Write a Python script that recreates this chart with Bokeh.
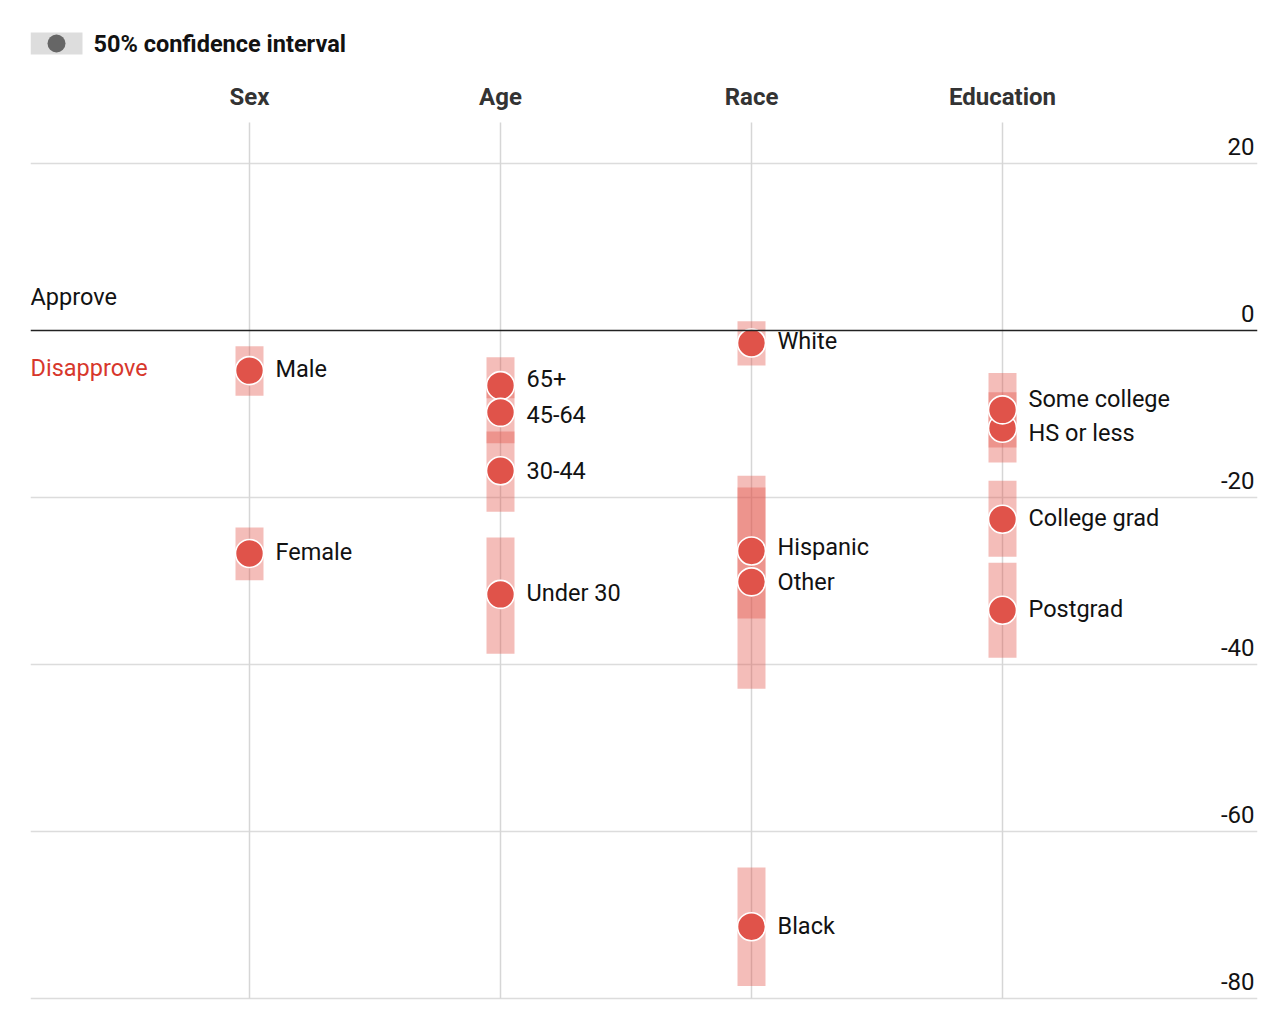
from bokeh.plotting import figure
from bokeh.models import ColumnDataSource, Span, FixedTicker
from bokeh.core.properties import value
from bokeh.embed import file_html
from bokeh.resources import INLINE

# ---------------- data ----------------
groups = ["Sex", "Age", "Race", "Education"]
labels = ["Male", "Female",
          "65+", "45-64", "30-44", "Under 30",
          "White", "Hispanic", "Other", "Black",
          "HS or less", "Some college", "College grad", "Postgrad"]
group_idx = [0, 0, 1, 1, 1, 1, 2, 2, 2, 2, 3, 3, 3, 3]
estimate = [-4.8, -26.7, -6.6, -9.8, -16.8, -31.6,
            -1.5, -26.4, -30.1, -71.4, -11.7, -9.5, -22.6, -33.5]
ci_low = [-7.8, -29.9, -8.1, -13.5, -21.7, -38.7,
          -4.2, -34.5, -42.9, -78.5, -15.8, -14.0, -27.1, -39.2]
ci_high = [-1.9, -23.6, -3.2, -6.9, -12.1, -24.8,
           1.1, -17.4, -18.8, -64.3, -7.4, -5.1, -18.0, -27.8]
# label nudges in screen px (positive = up) to avoid overlaps
label_nudge = [2, 1, 7, -2, 0, 1, 2, 4, 0, 1, -5, 11, 1, 1]

tick_values = [20, 0, -20, -40, -60, -80]
tick_labels = ["20", "0", "-20", "-40", "-60", "-80"]
grid_values = [20, -20, -40, -60, -80]

# ---------------- layout helpers ----------------
FONT = "Roboto"
PX_PER_COL = 251.0
PX_PER_UNIT = 8.35
# frame in page px: x 30..1257, y 14..1004 ; col0 at x=249, value 0 at y=330
X0, X1 = -(249 - 30) / PX_PER_COL, (1257 - 249) / PX_PER_COL
Y1, Y0 = (330 - 14) / PX_PER_UNIT, (330 - 1004) / PX_PER_UNIT


def px_x(px):
    return (px - 249) / PX_PER_COL


def px_y(py):
    return (330 - py) / PX_PER_UNIT


p = figure(width=1262, height=1010, x_range=(X0, X1), y_range=(Y0, Y1),
           output_backend="svg", toolbar_location=None,
           x_axis_location=None, y_axis_location=None,
           min_border_left=30, min_border_right=5,
           min_border_top=14, min_border_bottom=6)
p.outline_line_color = None
p.background_fill_color = "white"
p.xgrid.visible = False
p.ygrid.ticker = FixedTicker(ticks=grid_values)
p.ygrid.grid_line_color = "#dcdcdc"
p.ygrid.grid_line_width = 1.5

# vertical column lines
cols = list(range(len(groups)))
p.segment(x0=cols, x1=cols, y0=[px_y(122)] * 4, y1=[-80] * 4,
          line_color="#d6d6d6", line_width=1.5)

# zero line
p.add_layout(Span(location=0, dimension="width", line_color="#222222",
                  line_width=1.6))

src = ColumnDataSource(dict(
    x=group_idx, est=estimate,
    mid=[(a + b) / 2 for a, b in zip(ci_low, ci_high)],
    h=[b - a for a, b in zip(ci_low, ci_high)],
    label=labels,
    yoff=[-n for n in label_nudge],
))

# confidence bands
p.rect(x="x", y="mid", width=28, height="h", width_units="screen",
       source=src, fill_color="#e15146", fill_alpha=0.38, line_color=None)

# estimates
p.scatter(x="x", y="est", size=28, source=src, fill_color="#e0534a",
          line_color="white", line_width=1.6)

# point labels
p.text(x="x", y="est", text="label", source=src, x_offset=26, y_offset="yoff",
       text_align="left", text_baseline="middle", text_font=value(FONT),
       text_font_size="23.5px", text_color="#121212")

# group headers
p.text(x=cols, y=[px_y(96)] * 4, text=groups, text_align="center",
       text_baseline="middle", text_font=value(FONT), text_font_style="bold",
       text_font_size="24px", text_color="#333333")

# value tick labels (right side, above grid lines)
p.text(x=[px_x(1254)] * len(tick_values), y=tick_values, text=tick_labels,
       text_align="right", text_baseline="middle", y_offset=-17,
       text_font=value(FONT), text_font_size="24px", text_color="#121212")

# Approve / Disapprove
p.text(x=[px_x(30)], y=[0], text=["Approve"], y_offset=-34,
       text_align="left", text_baseline="middle", text_font=value(FONT),
       text_font_size="23.5px", text_color="#121212")
p.text(x=[px_x(30)], y=[0], text=["Disapprove"], y_offset=37,
       text_align="left", text_baseline="middle", text_font=value(FONT),
       text_font_size="23.5px", text_color="#d7372c")

# legend
p.rect(x=[px_x(56)], y=[px_y(43)], width=52, height=22, width_units="screen",
       height_units="screen", fill_color="#dddddd", line_color=None)
p.scatter(x=[px_x(56)], y=[px_y(43)], size=18, fill_color="#666666",
          line_color=None)
p.text(x=[px_x(93)], y=[px_y(43)], text=["50% confidence interval"],
       text_align="left", text_baseline="middle", text_font=value(FONT),
       text_font_style="bold", text_font_size="23.5px", text_color="#121212")

open("out.html", "w").write(file_html(p, INLINE))
